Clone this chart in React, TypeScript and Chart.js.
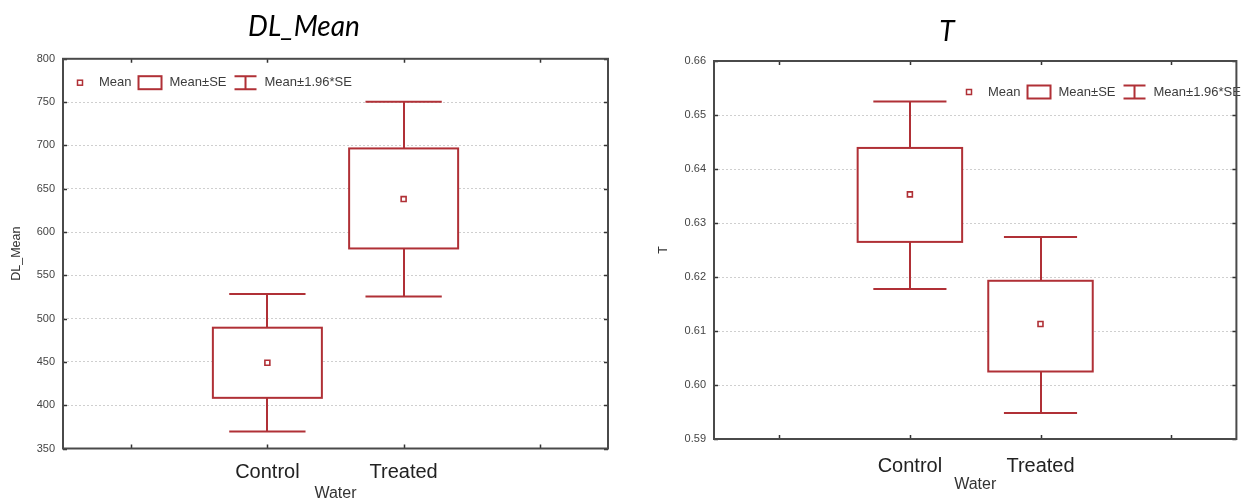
import React, { useEffect, useRef } from 'react';
import { Chart, registerables } from 'chart.js';

Chart.register(...registerables);

// ---------- data ----------
const categories = ['Control', 'Treated'];
const categoryPositions = [0, 1];
const xTickValues = [-1, 0, 1, 2];
const legendLabels = ['Mean', 'Mean±SE', 'Mean±1.96*SE'];

// DL_Mean chart
const dlMeans = [449, 638];
const dlSeLow = [408.5, 581];
const dlSeHigh = [489.5, 696.5];
const dlCiLow = [369.5, 525.5];
const dlCiHigh = [528.5, 750.5];
const dlYTicks = [350, 400, 450, 500, 550, 600, 650, 700, 750, 800];

// T chart
const tMeans = [0.6353, 0.6113];
const tSeLow = [0.6265, 0.6025];
const tSeHigh = [0.6439, 0.6193];
const tCiLow = [0.6178, 0.5948];
const tCiHigh = [0.6525, 0.6274];
const tYTicks = [0.59, 0.6, 0.61, 0.62, 0.63, 0.64, 0.65, 0.66];

// ---------- styles ----------
const RED = 'rgb(176, 48, 54)';
const SANS = '"Liberation Sans", Arial, sans-serif';
const TITLE_FONT = 'Lato, "Open Sans", sans-serif';

interface PanelCfg {
  title: string;
  yTitle: string;
  means: number[];
  seLow: number[];
  seHigh: number[];
  ciLow: number[];
  ciHigh: number[];
  yTicks: number[];
  decimals: number;
  padLeft: number;
  padRight: number;
  yWidth: number;
  xHeight: number;
  titlePad: { top: number; bottom: number };
  yTitlePad: number;
  xTickPad: number;
  xTitlePad: number;
  legendDx: number;
  legendY: number;
}

function makePlugins(cfg: PanelCfg) {
  const boxPlugin = {
    id: 'seBoxes',
    beforeDatasetsDraw(chart: any) {
      const { ctx } = chart;
      const x = chart.scales.x;
      const y = chart.scales.y;
      ctx.save();
      ctx.strokeStyle = RED;
      ctx.lineWidth = 2;
      categoryPositions.forEach((p, i) => {
        const xc = Math.round(x.getPixelForValue(p));
        const bx0 = x.getPixelForValue(p - 0.4);
        const bx1 = x.getPixelForValue(p + 0.4);
        const cx0 = x.getPixelForValue(p - 0.28);
        const cx1 = x.getPixelForValue(p + 0.28);
        const yCiH = y.getPixelForValue(cfg.ciHigh[i]);
        const yCiL = y.getPixelForValue(cfg.ciLow[i]);
        const ySeH = y.getPixelForValue(cfg.seHigh[i]);
        const ySeL = y.getPixelForValue(cfg.seLow[i]);
        ctx.beginPath();
        ctx.moveTo(xc, yCiH);
        ctx.lineTo(xc, ySeH);
        ctx.moveTo(xc, ySeL);
        ctx.lineTo(xc, yCiL);
        ctx.moveTo(cx0, yCiH);
        ctx.lineTo(cx1, yCiH);
        ctx.moveTo(cx0, yCiL);
        ctx.lineTo(cx1, yCiL);
        ctx.stroke();
        ctx.fillStyle = '#ffffff';
        ctx.fillRect(bx0, ySeH, bx1 - bx0, ySeL - ySeH);
        ctx.strokeRect(bx0, ySeH, bx1 - bx0, ySeL - ySeH);
      });
      ctx.restore();
    },
  };

  const framePlugin = {
    id: 'frameLegend',
    afterDraw(chart: any) {
      const { ctx, chartArea } = chart;
      const x = chart.scales.x;
      const y = chart.scales.y;
      const { left, right, top, bottom } = chartArea;
      ctx.save();
      // legend
      ctx.font = `13px ${SANS}`;
      ctx.textBaseline = 'middle';
      ctx.textAlign = 'left';
      const yc = cfg.legendY;
      let lx = left + cfg.legendDx;
      ctx.strokeStyle = RED;
      ctx.lineWidth = 1.5;
      ctx.strokeRect(lx - 2.5, yc - 2.5, 5, 5);
      lx += 19;
      ctx.fillStyle = '#3c3c3c';
      ctx.fillText(legendLabels[0], lx, yc);
      lx += ctx.measureText(legendLabels[0]).width + 7;
      ctx.lineWidth = 2;
      ctx.strokeRect(lx, yc - 6.5, 23, 13);
      lx += 23 + 8;
      ctx.fillText(legendLabels[1], lx, yc);
      lx += ctx.measureText(legendLabels[1]).width + 8;
      ctx.beginPath();
      ctx.moveTo(lx, yc - 6.5);
      ctx.lineTo(lx + 22, yc - 6.5);
      ctx.moveTo(lx + 11, yc - 6.5);
      ctx.lineTo(lx + 11, yc + 6.5);
      ctx.moveTo(lx, yc + 6.5);
      ctx.lineTo(lx + 22, yc + 6.5);
      ctx.stroke();
      lx += 22 + 8;
      ctx.fillText(legendLabels[2], lx, yc);

      // inner tick marks
      ctx.strokeStyle = '#333333';
      ctx.lineWidth = 1.5;
      ctx.beginPath();
      xTickValues.forEach((v) => {
        const px = Math.round(x.getPixelForValue(v)) + 0.5;
        ctx.moveTo(px, bottom);
        ctx.lineTo(px, bottom - 4);
        ctx.moveTo(px, top);
        ctx.lineTo(px, top + 4);
      });
      cfg.yTicks.forEach((v) => {
        const py = Math.round(y.getPixelForValue(v)) + 0.5;
        ctx.moveTo(left, py);
        ctx.lineTo(left + 4, py);
        ctx.moveTo(right, py);
        ctx.lineTo(right - 4, py);
      });
      ctx.stroke();
      // frame
      ctx.strokeStyle = '#4a4a4a';
      ctx.lineWidth = 2;
      ctx.strokeRect(left, top, right - left, bottom - top);
      ctx.restore();
    },
  };
  return [boxPlugin, framePlugin];
}

function Panel({ cfg, left }: { cfg: PanelCfg; left: number }) {
  const ref = useRef<HTMLCanvasElement | null>(null);
  useEffect(() => {
    if (!ref.current) return;
    const chart = new Chart(ref.current, {
      type: 'scatter',
      data: {
        datasets: [
          {
            label: legendLabels[0],
            data: categoryPositions.map((p, i) => ({ x: p, y: cfg.means[i] })),
            pointStyle: 'rect',
            pointRadius: 3.5,
            pointBorderWidth: 1.6,
            borderColor: RED,
            backgroundColor: '#ffffff',
          },
        ],
      },
      options: {
        animation: false,
        responsive: false,
        devicePixelRatio: 1,
        layout: { padding: { left: cfg.padLeft, right: cfg.padRight, top: 0, bottom: 0 } },
        plugins: {
          legend: { display: false },
          tooltip: { enabled: false },
          title: {
            display: true,
            text: cfg.title,
            color: '#000000',
            font: { family: TITLE_FONT, size: 28, style: 'italic', weight: 'normal', lineHeight: 1.2 },
            padding: cfg.titlePad,
          },
        },
        scales: {
          x: {
            type: 'linear',
            min: -1.5,
            max: 2.5,
            afterBuildTicks: (s: any) => {
              s.ticks = xTickValues.map((v) => ({ value: v }));
            },
            afterFit: (s: any) => {
              s.height = cfg.xHeight;
            },
            grid: { display: false, drawTicks: false },
            border: { display: false },
            ticks: {
              autoSkip: false,
              maxRotation: 0,
              padding: cfg.xTickPad,
              color: '#222222',
              font: { family: SANS, size: 20 },
              callback: (v: any) => {
                const i = categoryPositions.indexOf(Number(v));
                return i >= 0 ? categories[i] : '';
              },
            },
            title: {
              display: true,
              text: 'Water',
              color: '#333333',
              font: { family: SANS, size: 16, lineHeight: 0.9 },
              padding: { top: 0, bottom: cfg.xTitlePad },
            },
          },
          y: {
            type: 'linear',
            min: cfg.yTicks[0],
            max: cfg.yTicks[cfg.yTicks.length - 1],
            afterBuildTicks: (s: any) => {
              s.ticks = cfg.yTicks.map((v) => ({ value: v }));
            },
            afterFit: (s: any) => {
              s.width = cfg.yWidth;
            },
            grid: { color: '#cfcfcf', lineWidth: 1, drawTicks: false },
            border: { display: false, dash: [2, 2] },
            ticks: {
              padding: 8,
              color: '#444444',
              font: { family: SANS, size: 11 },
              callback: (v: any) => Number(v).toFixed(cfg.decimals),
            },
            title: {
              display: true,
              text: cfg.yTitle,
              color: '#333333',
              font: { family: SANS, size: 12.5, lineHeight: 1.2 },
              padding: { top: cfg.yTitlePad, bottom: 0 },
            },
          },
        },
      },
      plugins: makePlugins(cfg),
    } as any);
    return () => chart.destroy();
  }, [cfg]);
  return (
    <canvas
      ref={ref}
      width={621}
      height={501}
      style={{ position: 'absolute', left, top: 0, width: 621, height: 501, display: 'block' }}
    />
  );
}

const dlCfg: PanelCfg = {
  title: 'DL_Mean',
  yTitle: 'DL_Mean',
  means: dlMeans,
  seLow: dlSeLow,
  seHigh: dlSeHigh,
  ciLow: dlCiLow,
  ciHigh: dlCiHigh,
  yTicks: dlYTicks,
  decimals: 0,
  padLeft: 0,
  padRight: 13,
  yWidth: 63,
  xHeight: 52.5,
  titlePad: { top: 10.5, bottom: 14.7 },
  yTitlePad: 8.6,
  xTickPad: 12,
  xTitlePad: 0,
  legendDx: 17,
  legendY: 82.7,
};

const tCfg: PanelCfg = {
  title: 'T',
  yTitle: 'T',
  means: tMeans,
  seLow: tSeLow,
  seHigh: tSeHigh,
  ciLow: tCiLow,
  ciHigh: tCiHigh,
  yTicks: tYTicks,
  decimals: 2,
  padLeft: 33,
  padRight: 2,
  yWidth: 60,
  xHeight: 62,
  titlePad: { top: 15, bottom: 12.4 },
  yTitlePad: 2.1,
  xTickPad: 15,
  xTitlePad: 9.3,
  legendDx: 255,
  legendY: 92,
};

export default function App() {
  return (
    <div
      style={{
        position: 'absolute',
        left: 0,
        top: 0,
        width: 1242,
        height: 501,
        overflow: 'hidden',
        background: '#ffffff',
      }}
    >
      <Panel cfg={dlCfg} left={0} />
      <Panel cfg={tCfg} left={621} />
    </div>
  );
}
